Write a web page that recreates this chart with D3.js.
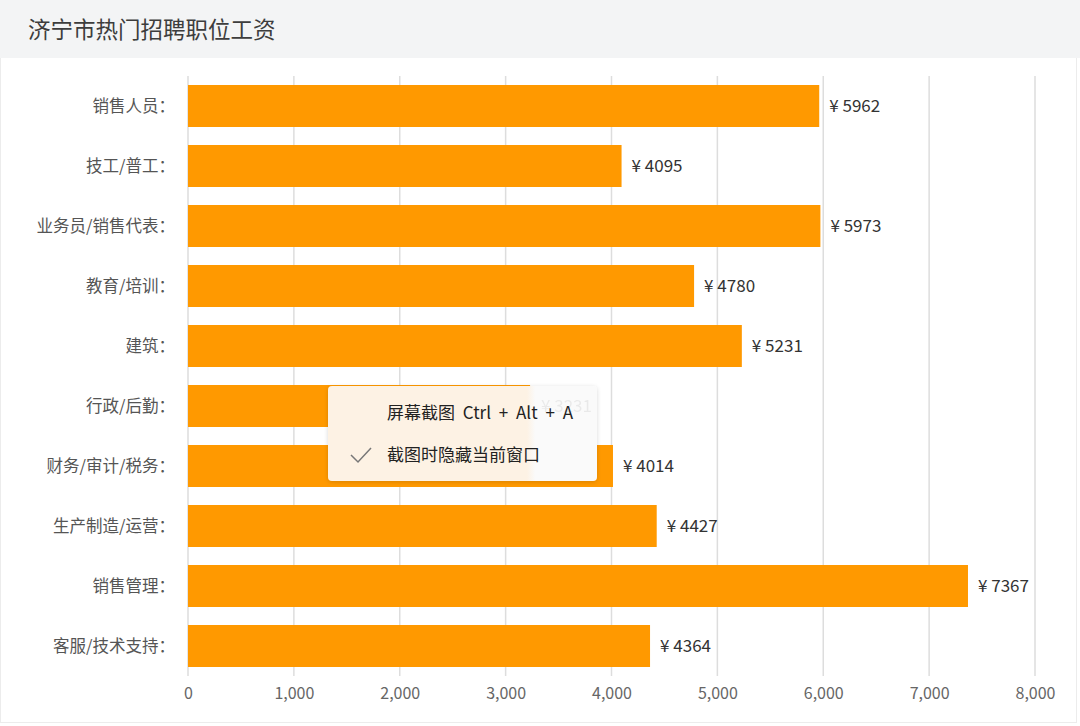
<!DOCTYPE html>
<html>
<head>
<meta charset="utf-8">
<script src="https://cdn.jsdelivr.net/npm/d3@7"></script>
<style>
  body { margin: 0; background: #fff; }
  text { font-family: "Noto Sans CJK SC", "Noto Sans", sans-serif; }
</style>
</head>
<body>
<div id="chart"></div>
<script>
// data
const title = "济宁市热门招聘职位工资";
const jobs = ["销售人员", "技工/普工", "业务员/销售代表", "教育/培训", "建筑",
              "行政/后勤", "财务/审计/税务", "生产制造/运营", "销售管理", "客服/技术支持"];
const salary = [5962, 4095, 5973, 4780, 5231, 3231, 4014, 4427, 7367, 4364];
const xTicks = [0, 1000, 2000, 3000, 4000, 5000, 6000, 7000, 8000];
const menuItems = ["屏幕截图 Ctrl + Alt + A", "截图时隐藏当前窗口"];

const W = 1080, H = 726;
const margin = {top: 76, right: 45, bottom: 50, left: 188};

const svg = d3.select("#chart")
              .append("svg")
              .attr("width", W)
              .attr("height", H);

// card + header
svg.append("rect").attr("x", 0.5).attr("y", 0.5).attr("width", W - 4).attr("height", H - 4)
   .attr("fill", "#fff").attr("stroke", "#ececec");
svg.append("rect").attr("x", 0).attr("y", 0).attr("width", W).attr("height", 58)
   .attr("fill", "#f3f4f5");
svg.append("text").attr("x", 28).attr("y", 38)
   .attr("font-size", 22.5).attr("fill", "#3d3d3d")
   .text(title);

const xScale = d3.scaleLinear()
                 .domain([0, 8000])
                 .range([margin.left, 1035]);
const yScale = d3.scaleBand()
                 .domain(jobs)
                 .range([margin.top, H - margin.bottom])
                 .paddingInner(0.3)
                 .paddingOuter(0.15);

// gridlines
svg.append("g")
   .selectAll("line")
   .data(xTicks)
   .join("line")
   .attr("x1", d => xScale(d)).attr("x2", d => xScale(d))
   .attr("y1", margin.top).attr("y2", H - margin.bottom)
   .attr("stroke", "#dddddd").attr("stroke-width", 1.5);

// x axis
const xAxis = d3.axisBottom(xScale)
                .tickValues(xTicks)
                .tickFormat(d3.format(","))
                .tickSize(0)
                .tickPadding(12);
svg.append("g")
   .attr("transform", `translate(0, ${H - margin.bottom})`)
   .call(xAxis)
   .call(g => g.select(".domain").remove())
   .call(g => g.selectAll("text").attr("font-size", 16).attr("fill", "#666")
                .style("font-family", "'Noto Sans CJK SC', sans-serif"));

// y labels
svg.append("g")
   .selectAll("text")
   .data(jobs)
   .join("text")
   .attr("x", 175)
   .attr("y", d => yScale(d) + yScale.bandwidth() / 2)
   .attr("dy", "0.35em")
   .attr("text-anchor", "end")
   .attr("font-size", 16.5)
   .attr("fill", "#555")
   .text(d => d + "：");

// bars
const rows = jobs.map((j, i) => ({job: j, value: salary[i]}));
svg.append("g")
   .selectAll("rect")
   .data(rows)
   .join("rect")
   .attr("x", xScale(0))
   .attr("y", d => yScale(d.job))
   .attr("width", d => xScale(d.value) - xScale(0))
   .attr("height", yScale.bandwidth())
   .attr("fill", "#ff9900");

svg.append("g")
   .selectAll("text")
   .data(rows)
   .join("text")
   .attr("x", d => xScale(d.value) + 10)
   .attr("y", d => yScale(d.job) + yScale.bandwidth() / 2)
   .attr("dy", "0.35em")
   .attr("font-size", 17)
   .attr("fill", "#333")
   .text(d => "¥ " + d.value);

// the screenshot context menu that sits over the chart
const defs = svg.append("defs");
const grad = defs.append("linearGradient").attr("id", "menuBg");
grad.append("stop").attr("offset", "0.74").attr("stop-color", "#fdf2e4");
grad.append("stop").attr("offset", "0.77").attr("stop-color", "#fafafa");
const shadow = defs.append("filter").attr("id", "menuShadow")
                   .attr("x", "-10%").attr("y", "-10%").attr("width", "120%").attr("height", "130%");
shadow.append("feDropShadow").attr("dx", 0).attr("dy", 1).attr("stdDeviation", 2)
      .attr("flood-color", "#000").attr("flood-opacity", 0.15);

const menu = svg.append("g");
menu.append("rect")
    .attr("x", 328).attr("y", 386).attr("width", 269).attr("height", 95)
    .attr("rx", 4)
    .attr("fill", "url(#menuBg)")
    .attr("filter", "url(#menuShadow)");
menu.append("text").attr("x", 541).attr("y", 406).attr("dy", "0.35em")
    .attr("font-size", 17).attr("fill", "#333").attr("opacity", 0.08)
    .text("¥ " + salary[5]);
menu.selectAll("text.item")
    .data(menuItems)
    .join("text")
    .attr("class", "item")
    .attr("x", 387)
    .attr("y", (d, i) => 413 + i * 42)
    .attr("dy", "0.35em")
    .attr("font-size", 17)
    .attr("word-spacing", 4)
    .attr("fill", "#222")
    .text(d => d);
menu.append("path")
    .attr("d", "M351,455 L358,462 L371,448")
    .attr("fill", "none").attr("stroke", "#777").attr("stroke-width", 1.5);
</script>
</body>
</html>
